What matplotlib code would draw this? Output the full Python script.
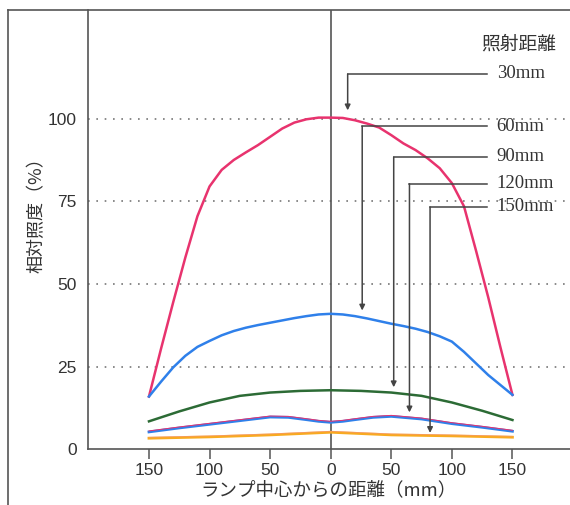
import matplotlib
matplotlib.use("Agg")
import matplotlib.pyplot as plt
import matplotlib.transforms as mtransforms
from matplotlib.lines import Line2D

# distance from lamp centre (mm), left side negative
x_30 = [-150, -140, -130, -120, -110, -100, -90, -80, -70, -60, -50, -40, -30, -20, -10, 0,
        10, 20, 30, 40, 50, 60, 70, 80, 90, 100, 110, 120, 130, 140, 150]
y_30 = [16, 30.5, 44.5, 58, 70.5, 79.5, 84.5, 87.5, 89.8, 92, 94.5, 97, 98.8, 99.8, 100.3, 100.3,
        100.2, 99.5, 98.5, 97.3, 95, 92.5, 90.5, 88, 85, 80.5, 73.5, 60, 46, 31, 16.5]

x_60 = [-150, -140, -130, -120, -110, -100, -90, -80, -70, -60, -50, -40, -30, -20, -10, 0,
        10, 20, 30, 40, 50, 60, 70, 80, 90, 100, 110, 120, 130, 140, 150]
y_60 = [16, 20.5, 24.8, 28.3, 31, 32.8, 34.5, 35.8, 36.8, 37.6, 38.3, 39, 39.7, 40.3, 40.8, 41,
        40.8, 40.3, 39.6, 38.8, 38, 37.3, 36.5, 35.5, 34.2, 32.6, 29.5, 26, 22.5, 19.5, 16.5]

x_90 = [-150, -125, -100, -75, -50, -25, 0, 25, 50, 75, 100, 125, 150]
y_90 = [8.5, 11.5, 14.2, 16.2, 17.2, 17.7, 17.9, 17.7, 17.2, 16.2, 14.2, 11.7, 8.9]

x_120 = [-150, -125, -100, -75, -50, -35, -20, -10, 0, 10, 20, 35, 50, 75, 100, 125, 150]
y_120 = [5.3, 6.5, 7.6, 8.7, 9.8, 9.7, 9.0, 8.5, 8.2, 8.5, 9.0, 9.7, 10, 9.2, 7.8, 6.7, 5.5]

x_150 = [-150, -100, -50, -25, 0, 25, 50, 100, 150]
y_150 = [3.4, 3.8, 4.4, 4.8, 5.2, 4.8, 4.4, 4.1, 3.7]

xticks = [-150, -100, -50, 0, 50, 100, 150]
xtick_labels = ["150", "100", "50", "0", "50", "100", "150"]
yticks = [0, 25, 50, 75, 100]

# callouts: label, arrow x, arrow tip y, leader y
callout_names = ["30mm", "60mm", "90mm", "120mm", "150mm"]
callout_x = [14, 26, 52, 65, 82]
callout_tip = [102.5, 42, 18.8, 11.2, 5.0]
callout_lead = [113.5, 97.7, 88.4, 80.3, 73.3]

PINK = "#e8336e"
BLUE = "#2f80ea"
GREEN = "#2c6b35"
ORANGE = "#f8aa20"

jp = ["Noto Sans CJK JP", "DejaVu Sans"]
plt.rcParams["font.family"] = ["Liberation Sans", "Noto Sans CJK JP"]

fig = plt.figure(figsize=(5.7, 5.05), dpi=100)
ax = fig.add_axes([0.154, 0.11, 0.846, 0.87])

ax.plot(x_30, y_30, color=PINK, lw=1.8, solid_joinstyle="round")
ax.plot(x_60, y_60, color=BLUE, lw=1.8, solid_joinstyle="round")
ax.plot(x_90, y_90, color=GREEN, lw=1.8)
ax.plot(x_120, y_120, color=BLUE, lw=2.0)
up = ax.transData + mtransforms.ScaledTranslation(0, 1.0 / 100, fig.dpi_scale_trans)
ax.plot(x_120, y_120, color=PINK, lw=0.7, transform=up)
ax.plot(x_150, y_150, color=ORANGE, lw=2.0)
ax.plot(x_150, y_150, color="#f48a9a", lw=0.5, transform=up, alpha=0.6)

ax.set_xlim(-200.5, 197.5)
ax.set_ylim(0, 132.8)

for v in yticks[1:]:
    ax.axhline(v, color="#777777", lw=1.2, ls=(0, (1, 4)), zorder=0)
ax.axvline(0, color="#555555", lw=1.2, zorder=0.5)

for name, xa, tip, lead in zip(callout_names, callout_x, callout_tip, callout_lead):
    ax.plot([129, xa], [lead, lead], color="#444444", lw=1.1)
    ax.annotate("", xy=(xa, tip), xytext=(xa, lead),
                arrowprops=dict(arrowstyle="-|>", color="#444444", lw=1.1,
                                mutation_scale=8, shrinkA=0, shrinkB=0))
    ax.text(137, lead, name, ha="left", va="center", fontsize=13.5,
            family="Liberation Serif", color="#333333")

ax.text(155, 122.4, "照射距離", ha="center", va="center", fontsize=13.5,
        family=jp, color="#333333")

ax.set_xticks(xticks)
ax.set_xticklabels(xtick_labels)
ax.set_yticks(yticks)
ax.tick_params(axis="x", length=7, width=1.1, color="#555555", labelsize=12.5,
               labelcolor="#333333", pad=3)
ax.tick_params(axis="y", length=0, labelsize=12.5, labelcolor="#333333", pad=8)

for side in ["top", "right"]:
    ax.spines[side].set_visible(False)
for side in ["left", "bottom"]:
    ax.spines[side].set_color("#555555")
    ax.spines[side].set_linewidth(1.2)

ax.set_xlabel("ランプ中心からの距離（mm）", family=jp, fontsize=13.3,
              color="#333333", labelpad=2)
ax.set_ylabel("相対照度（%）", family=jp, fontsize=13, color="#333333")
ax.yaxis.set_label_coords(-0.088, 0.543)

# outer frame of the figure box
fig.add_artist(Line2D([0.014, 0.014], [0.0, 0.98], color="#555555", lw=1.2))
fig.add_artist(Line2D([0.014, 1.0], [0.98, 0.98], color="#555555", lw=1.2))

fig.savefig("out.png", dpi=100)
